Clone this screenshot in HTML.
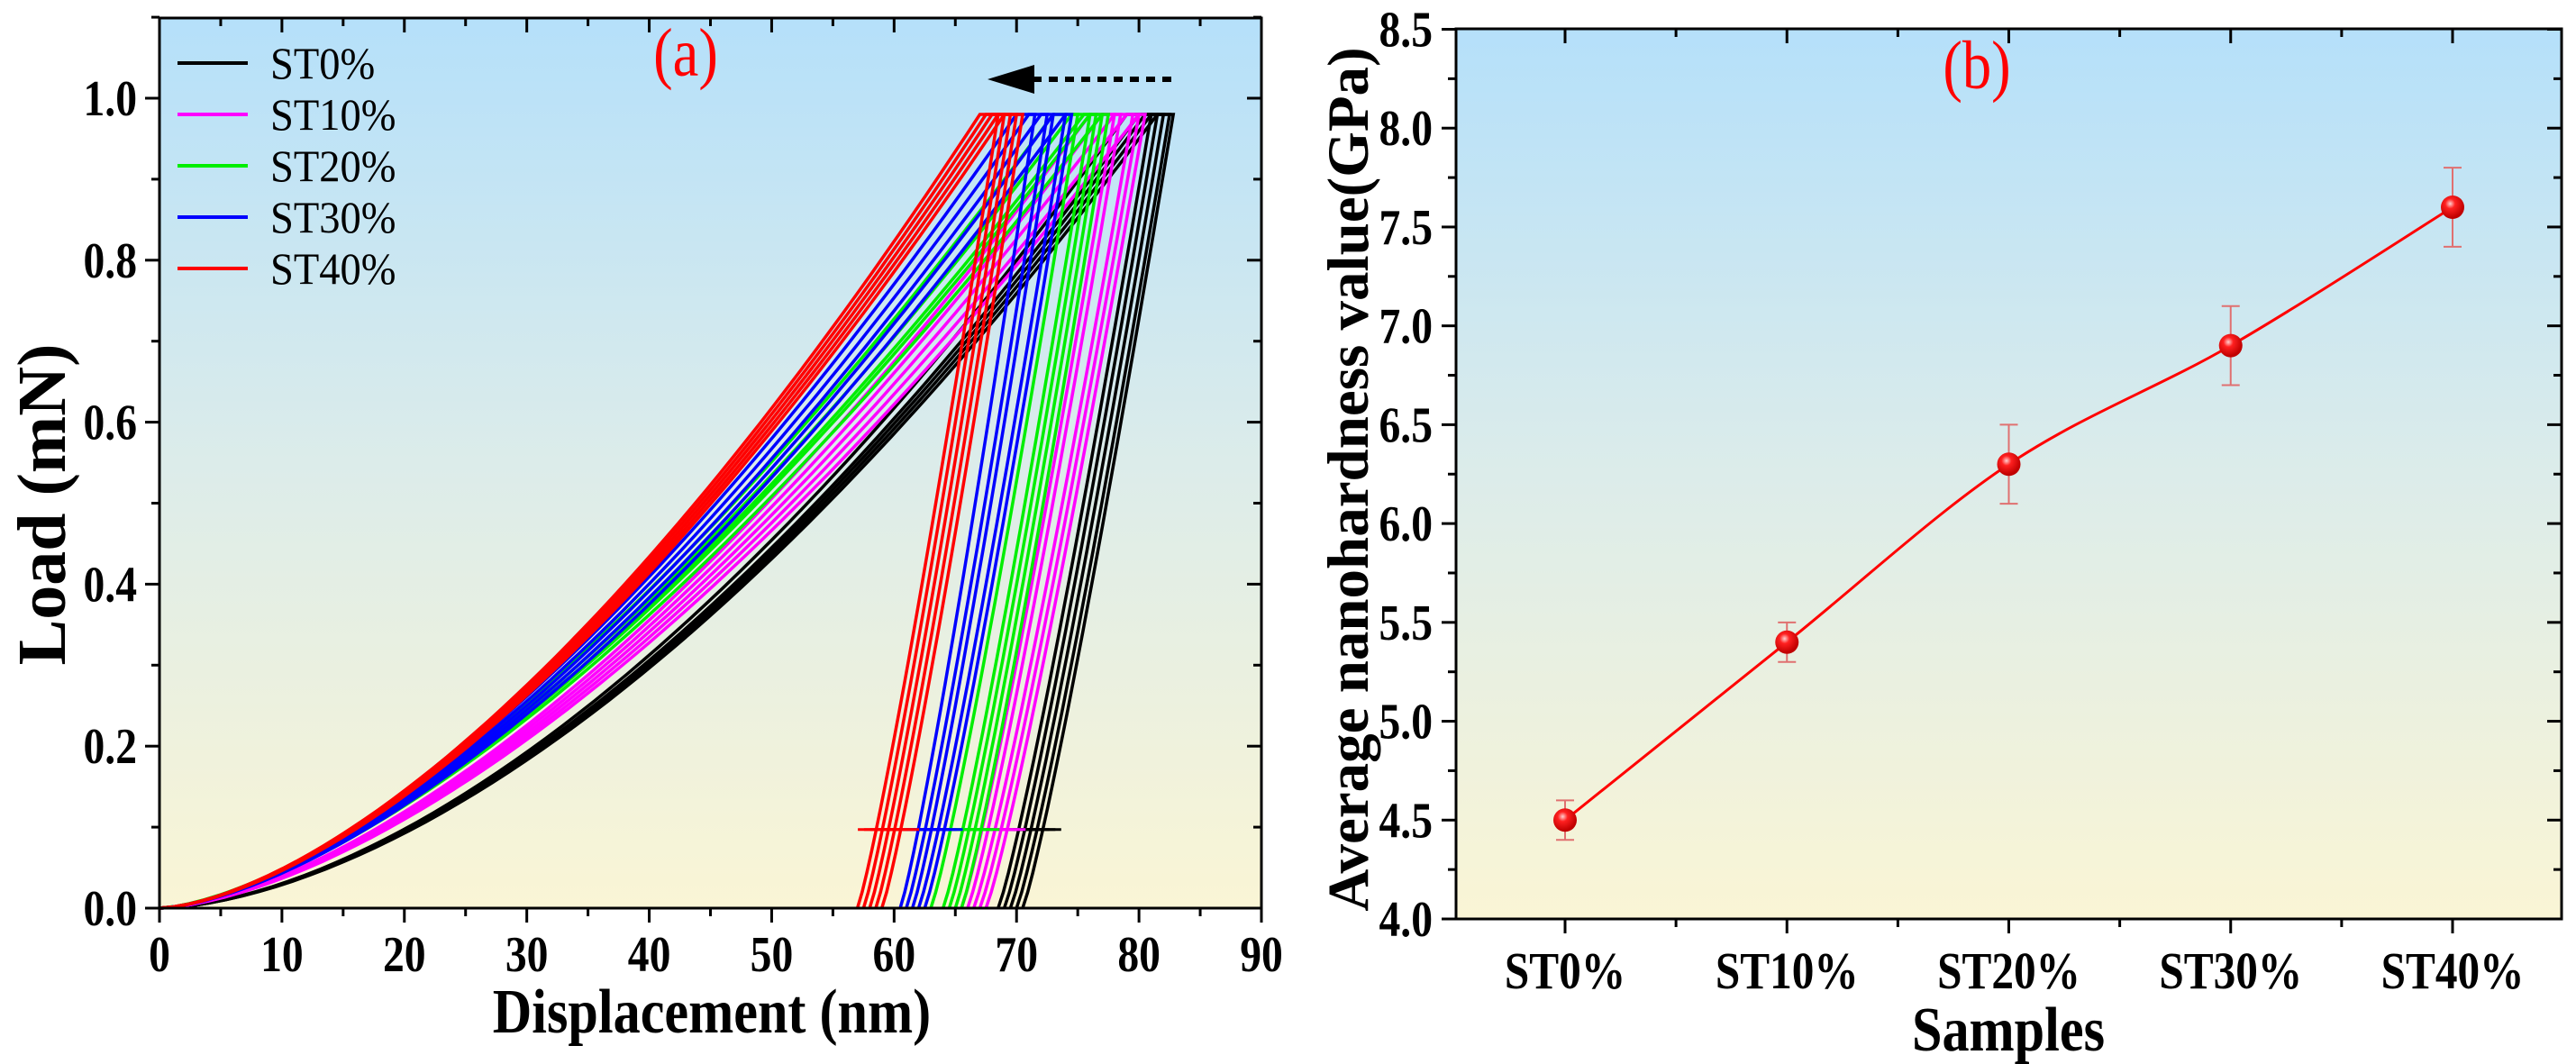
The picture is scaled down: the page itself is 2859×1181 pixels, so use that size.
<!DOCTYPE html>
<html><head><meta charset="utf-8">
<style>
html,body{margin:0;padding:0;background:#fff;}
svg{display:block;}
text{font-family:"Liberation Serif",serif;}
</style></head>
<body>
<svg id="fig" width="2859" height="1181" viewBox="0 0 2859 1181" xmlns="http://www.w3.org/2000/svg">
<defs>
<linearGradient id="bg" x1="0" y1="0" x2="0" y2="1">
<stop offset="0" stop-color="#b5e0fa"/>
<stop offset="0.5" stop-color="#dcecea"/>
<stop offset="1" stop-color="#faf5d5"/>
</linearGradient>
<radialGradient id="ball" cx="0.4" cy="0.35" r="0.6">
<stop offset="0" stop-color="#ffd0d0"/><stop offset="0.35" stop-color="#ff2020"/><stop offset="1" stop-color="#c00000"/>
</radialGradient>
</defs>
<rect x="177" y="20" width="1223" height="988" fill="url(#bg)"/>
<rect x="1616" y="32" width="1227" height="988" fill="url(#bg)"/>
<g id="a-curves"></g>
<g id="b-marks"></g>
<g id="axes"></g>
<rect x="177" y="20" width="1223" height="988" fill="none" stroke="#000" stroke-width="3"/>
<rect x="1616" y="32" width="1227" height="988" fill="none" stroke="#000" stroke-width="3"/>
<text transform="translate(761,84) scale(0.85,1)" font-size="76" fill="#f00" text-anchor="middle">(a)</text>
<text transform="translate(2194,98) scale(0.85,1)" font-size="76" fill="#f00" text-anchor="middle">(b)</text>
<g>
<line x1="1300" y1="88" x2="1140" y2="88" stroke="#000" stroke-width="6" stroke-dasharray="10,8"/>
<polygon points="1096,88 1148,72 1148,104" fill="#000"/>
</g>
<text transform="translate(790,1146) scale(0.86,1)" font-size="70" font-weight="bold" text-anchor="middle">Displacement (nm)</text>
<text transform="translate(72,560) rotate(-90)" font-size="76" font-weight="bold" text-anchor="middle">Load (mN)</text>
<text transform="translate(2229,1166) scale(0.86,1)" font-size="70" font-weight="bold" text-anchor="middle">Samples</text>
<text transform="translate(1518,532) rotate(-90)" font-size="65" font-weight="bold" text-anchor="middle">Average nanohardness value(GPa)</text>
<g id="legend"></g>
</svg>
<script>
// Panel (a) data
const seriesNames = ["ST0%","ST10%","ST20%","ST30%","ST40%"];
const seriesColors = ["#000000","#ff00ff","#00ee00","#0000ff","#ff0000"];
const loadEnd = [[79,80,80.5,81,81.5],[76,77,78,79,80],[73,74.5,75.5,76,77],[70,71,72,73,74],[67,67.5,68,68.5,69]];
const holdEnd = [[81,81.5,82,82.5,82.8],[78,78.5,79.5,80,80.5],[75,76,76.5,77,77.5],[71.5,72.5,73,74,74.5],[68.5,69,69.5,70,70.5]];
const residual = [[68.5,69,69.5,70,70.5],[65.5,66,66.5,67,67.5],[63,64,64.5,65,65.5],[60.5,61,61.5,62,62.5],[57,57.5,58,58.5,59]];
const loadExp = [1.68,1.58,1.52,1.56,1.58];
const maxLoad = 0.98;
const xTicksA = [0,10,20,30,40,50,60,70,80,90];
const yTicksA = [0.0,0.2,0.4,0.6,0.8,1.0];
// Panel (b) data
const samples = ["ST0%","ST10%","ST20%","ST30%","ST40%"];
const hardness = [4.5,5.4,6.3,6.9,7.6];
const hardErr = [0.1,0.1,0.2,0.2,0.2];
const yTicksB = [4.0,4.5,5.0,5.5,6.0,6.5,7.0,7.5,8.0,8.5];

const NS="http://www.w3.org/2000/svg";
function mk(tag,attrs,parent){const e=document.createElementNS(NS,tag);for(const k in attrs)e.setAttribute(k,attrs[k]);parent.appendChild(e);return e;}
const xA=v=>177+v*(1400-177)/90;
const yA=v=>1008-v*(1008-109);
const xB=i=>1737+i*246.25;
const yB=v=>1020-(v-4)*(1020-32.5)/4.5;

const gA=document.getElementById('a-curves');
for(let s=0;s<seriesNames.length;s++){
  for(let c=0;c<loadEnd[s].length;c++){
    const hL=loadEnd[s][c],hM=holdEnd[s][c],hf=residual[s][c],m=loadExp[s];
    let pts=[];
    for(let k=0;k<=60;k++){const h=hL*k/60;pts.push([xA(h),yA(maxLoad*Math.pow(h/hL,m))]);}
    pts.push([xA(hM),yA(maxLoad)]);
    for(let k=1;k<=30;k++){const t=1-k/30;const h=hf+(hM-hf)*t;pts.push([xA(h),yA(maxLoad*Math.pow(t,1.15))]);}
    const p=mk('path',{d:'M'+pts.map(q=>q[0].toFixed(1)+','+q[1].toFixed(1)).join('L'),fill:'none',stroke:seriesColors[s],'stroke-width':3.5},gA);
    
    
    const hd=hf+(hM-hf)*Math.pow(0.097/maxLoad,1/1.15);
    const d=mk('line',{x1:xA(hd-1.5),x2:xA(hd+1.5),y1:yA(0.097),y2:yA(0.097),stroke:seriesColors[s],'stroke-width':3},gA);
    
    
  }
}

const leg=document.getElementById('legend');
for(let s=0;s<seriesNames.length;s++){
  const y=70+s*57;
  const l=mk('line',{x1:197,x2:275,y1:y,y2:y,stroke:seriesColors[s],'stroke-width':4},leg);
  
  
  const t=mk('text',{transform:'translate(300,'+(y+17)+') scale(0.93,1)','font-size':50},leg);
  t.textContent=seriesNames[s];
  
  
}

const ax=document.getElementById('axes');
function ln(x1,y1,x2,y2,w){const e=mk('line',{x1,y1,x2,y2,stroke:'#000','stroke-width':w},ax);return e;}
function tx(x,y,s,anchor,fs){const e=mk('text',{transform:'translate('+x+','+y+') scale(0.85,1)','font-size':fs,'font-weight':'bold','text-anchor':anchor},ax);e.textContent=s;return e;}
// panel a ticks
for(let v=0;v<=90;v+=5){const x=xA(v);const maj=v%10===0;ln(x,1008,x,1008+(maj?16:9),3);ln(x,20,x,20+(maj?16:9),3);}
xTicksA.forEach(v=>tx(xA(v),1078,String(v),'middle',56));
for(let k=0;k<=11;k++){const v=k*0.1;const y=yA(v);const maj=k%2===0;ln(177-(maj?16:9),y,177,y,3);ln(1400-(maj?16:9),y,1400,y,3);}
yTicksA.forEach(v=>tx(152,yA(v)+19,v.toFixed(1),'end',56));
// panel b ticks
for(let k=0;k<=18;k++){const v=4+k*0.25;const y=yB(v);const maj=k%2===0;ln(1616-(maj?16:9),y,1616,y,3);ln(2843-(maj?16:9),y,2843,y,3);}
yTicksB.forEach(v=>tx(1590,yB(v)+19,v.toFixed(1),'end',56));
for(let i=-0.5;i<=4.5;i+=0.5){const x=xB(i);const maj=Number.isInteger(i);if(x<1616||x>2843)continue;ln(x,1020,x,1020+(maj?16:9),3);ln(x,32,x,32+(maj?16:9),3);}
samples.forEach((s,i)=>tx(xB(i),1097,s,'middle',58));

// panel b marks
const gB=document.getElementById('b-marks');
const P=hardness.map((v,i)=>[xB(i),yB(v)]);
let d='M'+P[0][0]+','+P[0][1];
for(let i=0;i<P.length-1;i++){
  const p0=P[Math.max(0,i-1)],p1=P[i],p2=P[i+1],p3=P[Math.min(P.length-1,i+2)];
  const c1=[p1[0]+(p2[0]-p0[0])/6,p1[1]+(p2[1]-p0[1])/6],c2=[p2[0]-(p3[0]-p1[0])/6,p2[1]-(p3[1]-p1[1])/6];
  d+='C'+c1.join(',')+' '+c2.join(',')+' '+p2.join(',');
}
const line=mk('path',{d,fill:'none',stroke:'#f00','stroke-width':3},gB);


hardness.forEach((v,i)=>{
  const x=xB(i),yt=yB(v+hardErr[i]),yb=yB(v-hardErr[i]);
  const g=mk('g',{},gB);
  
  
  mk('line',{x1:x,x2:x,y1:yt,y2:yb,stroke:'#e07070','stroke-width':2},g);
  mk('line',{x1:x-10,x2:x+10,y1:yt,y2:yt,stroke:'#e07070','stroke-width':2},g);
  mk('line',{x1:x-10,x2:x+10,y1:yb,y2:yb,stroke:'#e07070','stroke-width':2},g);
  const c=mk('circle',{cx:x,cy:yB(v),r:13,fill:'url(#ball)'},gB);
  
  
});
</script>
</body></html>
